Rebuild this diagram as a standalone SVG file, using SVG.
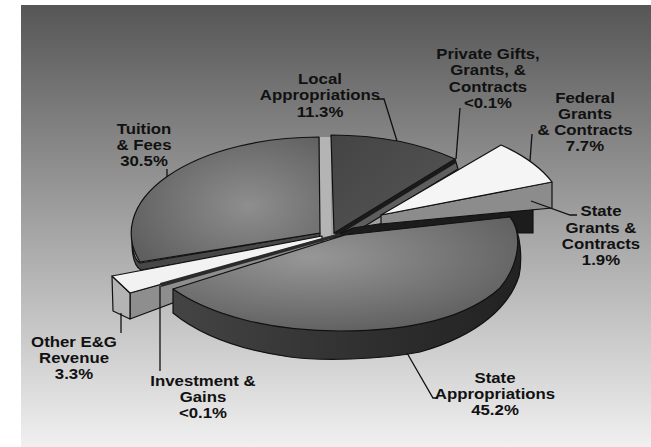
<svg xmlns="http://www.w3.org/2000/svg" width="651" height="447" viewBox="0 0 651 447">
<defs>
<linearGradient id="bg" x1="0" y1="0" x2="0" y2="1">
<stop offset="0" stop-color="#565656"/>
<stop offset="1" stop-color="#f0f0f0"/>
</linearGradient>
<radialGradient id="gTuition" cx="0.62" cy="0.55" r="0.7">
<stop offset="0" stop-color="#8e8e8e"/>
<stop offset="1" stop-color="#5e5e5e"/>
</radialGradient>
<linearGradient id="gLocal" x1="0" y1="0" x2="1" y2="1">
<stop offset="0" stop-color="#444"/>
<stop offset="1" stop-color="#565656"/>
</linearGradient>
<radialGradient id="gStateTop" cx="0.4" cy="0.35" r="0.75">
<stop offset="0" stop-color="#979797"/>
<stop offset="1" stop-color="#5a5a5a"/>
</radialGradient>
<linearGradient id="gStateSide" x1="0" y1="0" x2="1" y2="0">
<stop offset="0" stop-color="#444"/>
<stop offset="0.6" stop-color="#2e2e2e"/>
<stop offset="1" stop-color="#222"/>
</linearGradient>
</defs>
<style>
.edge{stroke:#111;stroke-width:1.2;stroke-linejoin:round}
.lead{fill:none;stroke:#111;stroke-width:1.3}
.lbl{font-family:"Liberation Sans",Arial,sans-serif;font-weight:bold;font-size:14px;fill:#111;text-anchor:middle}
</style>
<rect x="21" y="5" width="630" height="442" fill="url(#bg)"/>

<g id="gap"><rect x="320" y="137" width="11" height="99" fill="#b4b4b4"/></g>

<g id="tuition-fees">
<path class="edge" d="M132,236 Q132,258 140,263 L320,233 L320,239 L141,270 Q133,266 132,246 Z" fill="#474747"/>
<path class="edge" d="M319,137 L320,233 L140,262 A188,96 0 0 1 319,137 Z" fill="url(#gTuition)"/>
</g>

<g id="local-appropriations">
<path class="edge" d="M334,233 L455,159 L458,169 L352,234 Z" fill="#5e5e5e"/>
<path class="edge" d="M331,135 L334,233 L455,159 A188,96 0 0 0 331,135 Z" fill="url(#gLocal)"/>
</g>

<g id="private-gifts">
<path d="M334,233 L455,159 L456,163 L337,236 Z" fill="#1a1a1a"/>
</g>

<g id="state-grants">
<path class="edge" d="M353,228 L527,201 L533,208 L533,233 L517,233 L510,217 L330,238 Z" fill="#1c1c1c"/>
</g>

<g id="federal-grants">
<path class="edge" d="M381,215 L552,182 L552,208 L381,224 Z" fill="#8c8c8c"/>
<path class="edge" d="M381,215 L501,145 A188,96 0 0 1 552,182 Z" fill="#f5f5f5"/>
</g>

<g id="other-eg-revenue">
<path class="edge" d="M130,293 L322,239 L322,247 L130,319 Z" fill="#8e8e8e"/>
<path class="edge" d="M112,276 L130,293 L130,319 L113,311 Z" fill="#b4b4b4"/>
<path class="edge" d="M112,276 L322,236 L322,239 L130,293 Z" fill="#f2f2f2"/>
</g>

<g id="investment-gains">
<path d="M160,283 L340,233 L341,236 L161,287 Z" fill="#2a2a2a"/>
</g>

<g id="state-appropriations">
<path class="edge" d="M510,217 C522,232 522,262 519,276 C510,305 480,335 420,352 C380,360 320,361 290,357 C240,350 200,335 173,313 L173,289 Z" fill="url(#gStateSide)"/>
<path class="edge" d="M345,235 L510,217 C522,232 521,262 500,288 C470,315 420,331 340,331 C270,331 210,315 173,289 Z" fill="url(#gStateTop)"/>
</g>

<g id="connectors">
<path class="lead" d="M167,169 L167,177"/>
<path class="lead" d="M377,99 L384,99 L397,141"/>
<path class="lead" d="M460,108 L456,159"/>
<path class="lead" d="M532,134 L530,161"/>
<path class="lead" d="M531,201 L570,215 L577,215"/>
<path class="lead" d="M121,313 L121,333"/>
<path class="lead" d="M160,286 L160,371"/>
<path class="lead" d="M407,353 L433,398 L438,398"/>
</g>

<g id="labels">
<g transform="translate(320,0) scale(1.2,1)"><text class="lbl"><tspan x="0" y="84">Local</tspan><tspan x="0" y="100.5">Appropriations</tspan><tspan x="0" y="117">11.3%</tspan></text></g>
<g transform="translate(144,0) scale(1.2,1)"><text class="lbl"><tspan x="0" y="134">Tuition</tspan><tspan x="0" y="150">&amp; Fees</tspan><tspan x="0" y="166.5">30.5%</tspan></text></g>
<g transform="translate(488,0) scale(1.2,1)"><text class="lbl"><tspan x="0" y="59.5">Private Gifts,</tspan><tspan x="0" y="75.5">Grants, &amp;</tspan><tspan x="0" y="92">Contracts</tspan><tspan x="0" y="108">&lt;0.1%</tspan></text></g>
<g transform="translate(585,0) scale(1.2,1)"><text class="lbl"><tspan x="0" y="103.5">Federal</tspan><tspan x="0" y="119.5">Grants</tspan><tspan x="0" y="135.5">&amp; Contracts</tspan><tspan x="0" y="151.5">7.7%</tspan></text></g>
<g transform="translate(601,0) scale(1.2,1)"><text class="lbl"><tspan x="0" y="216.5">State</tspan><tspan x="0" y="233">Grants &amp;</tspan><tspan x="0" y="249">Contracts</tspan><tspan x="0" y="265">1.9%</tspan></text></g>
<g transform="translate(495,0) scale(1.2,1)"><text class="lbl"><tspan x="0" y="383.5">State</tspan><tspan x="0" y="399.5">Appropriations</tspan><tspan x="0" y="415.5">45.2%</tspan></text></g>
<g transform="translate(74,0) scale(1.2,1)"><text class="lbl"><tspan x="0" y="347">Other E&amp;G</tspan><tspan x="0" y="363">Revenue</tspan><tspan x="0" y="379.5">3.3%</tspan></text></g>
<g transform="translate(203,0) scale(1.2,1)"><text class="lbl"><tspan x="0" y="386">Investment &amp;</tspan><tspan x="0" y="402">Gains</tspan><tspan x="0" y="418">&lt;0.1%</tspan></text></g>
</g>
</svg>
